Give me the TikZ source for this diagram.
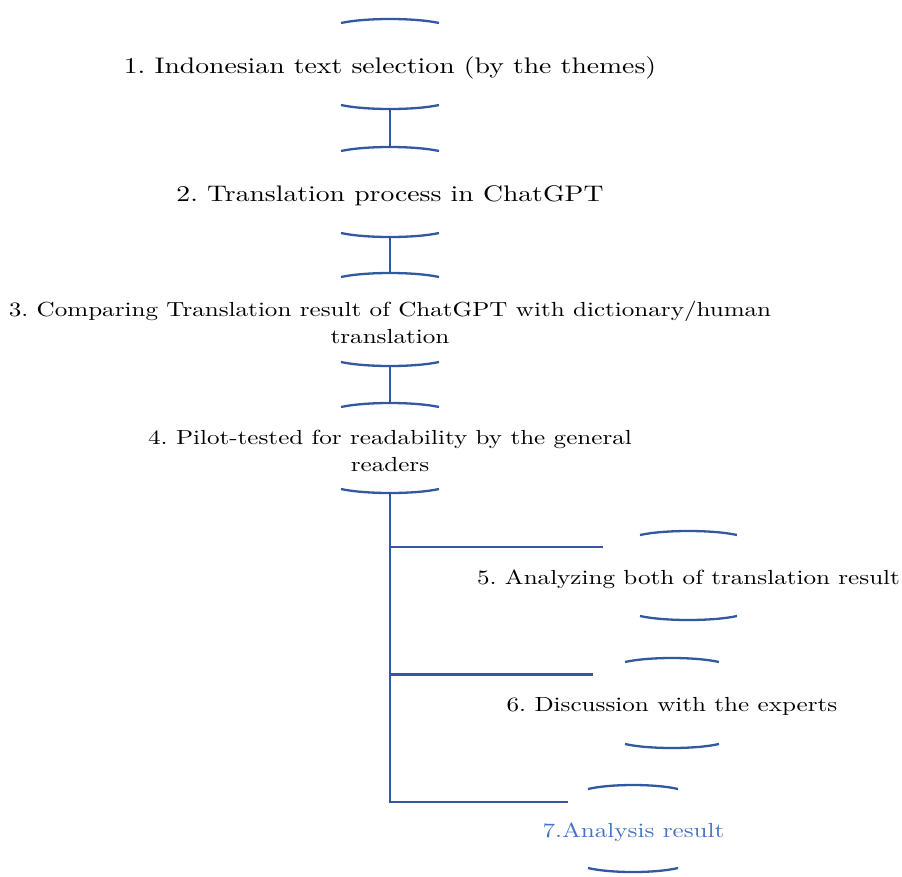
\documentclass[tikz,border=0pt]{standalone}
\usepackage{fontspec}
\newfontfamily\dfont{lmroman10-regular.otf}[FakeStretch=1.23]
\frenchspacing
\definecolor{lc}{RGB}{50,88,160}
\definecolor{tc}{RGB}{68,114,196}
\tikzset{
  conn/.style={draw=lc, line width=2.3pt},
  arcline/.style={draw=lc, line width=2.3pt},
  bigtxt/.style={font=\dfont\fontsize{22.5}{27}\selectfont\frenchspacing, inner sep=0pt, align=center, anchor=base},
  smalltxt/.style={font=\dfont\fontsize{20.4}{27}\selectfont\frenchspacing, inner sep=0pt, align=center, anchor=base},
}
% #1 name, #2 x centre, #3 half width, #4 top middle y, #5 bottom middle y
\newcommand\barrelarcs[5]{%
  \draw[arcline] ({#2-#3},{#4+4}) .. controls ({#2-#3/2},{#4-1.33}) and ({#2+#3/2},{#4-1.33}) .. ({#2+#3},{#4+4});
  \draw[arcline] ({#2-#3},{#5-4}) .. controls ({#2-#3/2},{#5+1.33}) and ({#2+#3/2},{#5+1.33}) .. ({#2+#3},{#5-4});
  \coordinate (#1t) at (#2,#4);
  \coordinate (#1b) at (#2,#5);
}
\begin{document}
\begin{tikzpicture}[x=1pt,y=-1pt]
\useasboundingbox (0,0) rectangle (902,876);
\barrelarcs{n1}{390}{49}{19}{109}
\barrelarcs{n2}{390}{49}{147}{237}
\barrelarcs{n3}{390}{49}{273}{366}
\barrelarcs{n4}{390}{49}{403}{493}
\barrelarcs{n5}{688.5}{48.5}{531}{620}
\barrelarcs{n6}{672}{47}{658}{748}
\barrelarcs{n7}{633}{45}{785}{872}

\node[bigtxt] (t1) at (390,73.5) {1. Indonesian text selection (by the themes)};
\node[bigtxt] (t2) at (390,201.5) {2. Translation process in ChatGPT};
\node[smalltxt] (t3) at (390,343.7) {3. Comparing Translation result of ChatGPT with dictionary/human\\translation};
\node[smalltxt] (t4) at (390,471.5) {4. Pilot-tested for readability by the general\\readers};
\node[smalltxt] (t5) at (688.5,584) {5. Analyzing both of translation result};
\node[smalltxt] (t6) at (672,711) {6. Discussion with the experts};
\node[smalltxt, text=tc] (t7) at (633.5,837) {7.Analysis result};

\draw[conn] (n1b) -- (n2t);
\draw[conn] (n2b) -- (n3t);
\draw[conn] (n3b) -- (n4t);

\coordinate (j5) at (390,547);
\coordinate (j6) at (390,674.5);
\coordinate (e5) at (603,547);
\coordinate (e6) at (593,674.5);
\coordinate (e7) at (568,802);
\draw[conn] (n4b) |- (e7);
\draw[conn] (j5) -- (e5);
\draw[conn] (j6) -- (e6);
\end{tikzpicture}
\end{document}
